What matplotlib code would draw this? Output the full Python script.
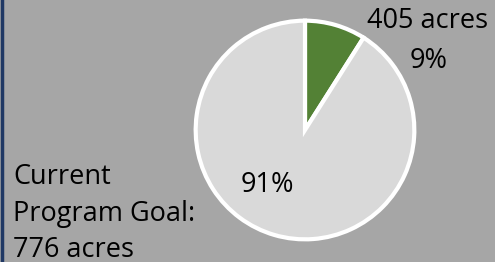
import matplotlib.pyplot as plt
from matplotlib.lines import Line2D

# data
shares = [9, 91]
colors = ['#538135', '#d9d9d9']
acres_done = 405
goal_acres = 776

bg = '#a6a6a6'
plt.rcParams['font.family'] = ['Open Sans', 'DejaVu Sans']

fig = plt.figure(figsize=(4.95, 2.62), dpi=100)
fig.patch.set_facecolor(bg)

# pie placed in its own axes (pixels: centre ~305,130 radius ~111)
ax = fig.add_axes([194 / 495, (262 - 241) / 262, 222 / 495, 222 / 262])
ax.set_facecolor(bg)
ax.pie(shares, colors=colors, startangle=90, counterclock=False, radius=0.985,
       wedgeprops=dict(edgecolor='white', linewidth=3))
ax.set_xlim(-1, 1)
ax.set_ylim(-1, 1)
ax.set_aspect('equal')
ax.axis('off')


def put(x, y, s, ha='left'):
    # x, y in pixels from top-left, y = baseline
    fig.text(x / 495, 1 - y / 262, s, ha=ha, va='baseline', fontsize=19.5)


# labels
put(428, 28, f'{acres_done} acres', ha='center')
put(429, 68, f'{shares[0]}%', ha='center')
put(267, 192, f'{shares[1]}%', ha='center')
put(13, 184, 'Current')
put(13, 221, 'Program Goal:')
put(13, 257, f'{goal_acres} acres')

# left border line
fig.add_artist(Line2D([2 / 495, 2 / 495], [0, 1], color='#203864',
                      linewidth=2.5, transform=fig.transFigure))

fig.savefig('out.png', dpi=100, facecolor=bg)
